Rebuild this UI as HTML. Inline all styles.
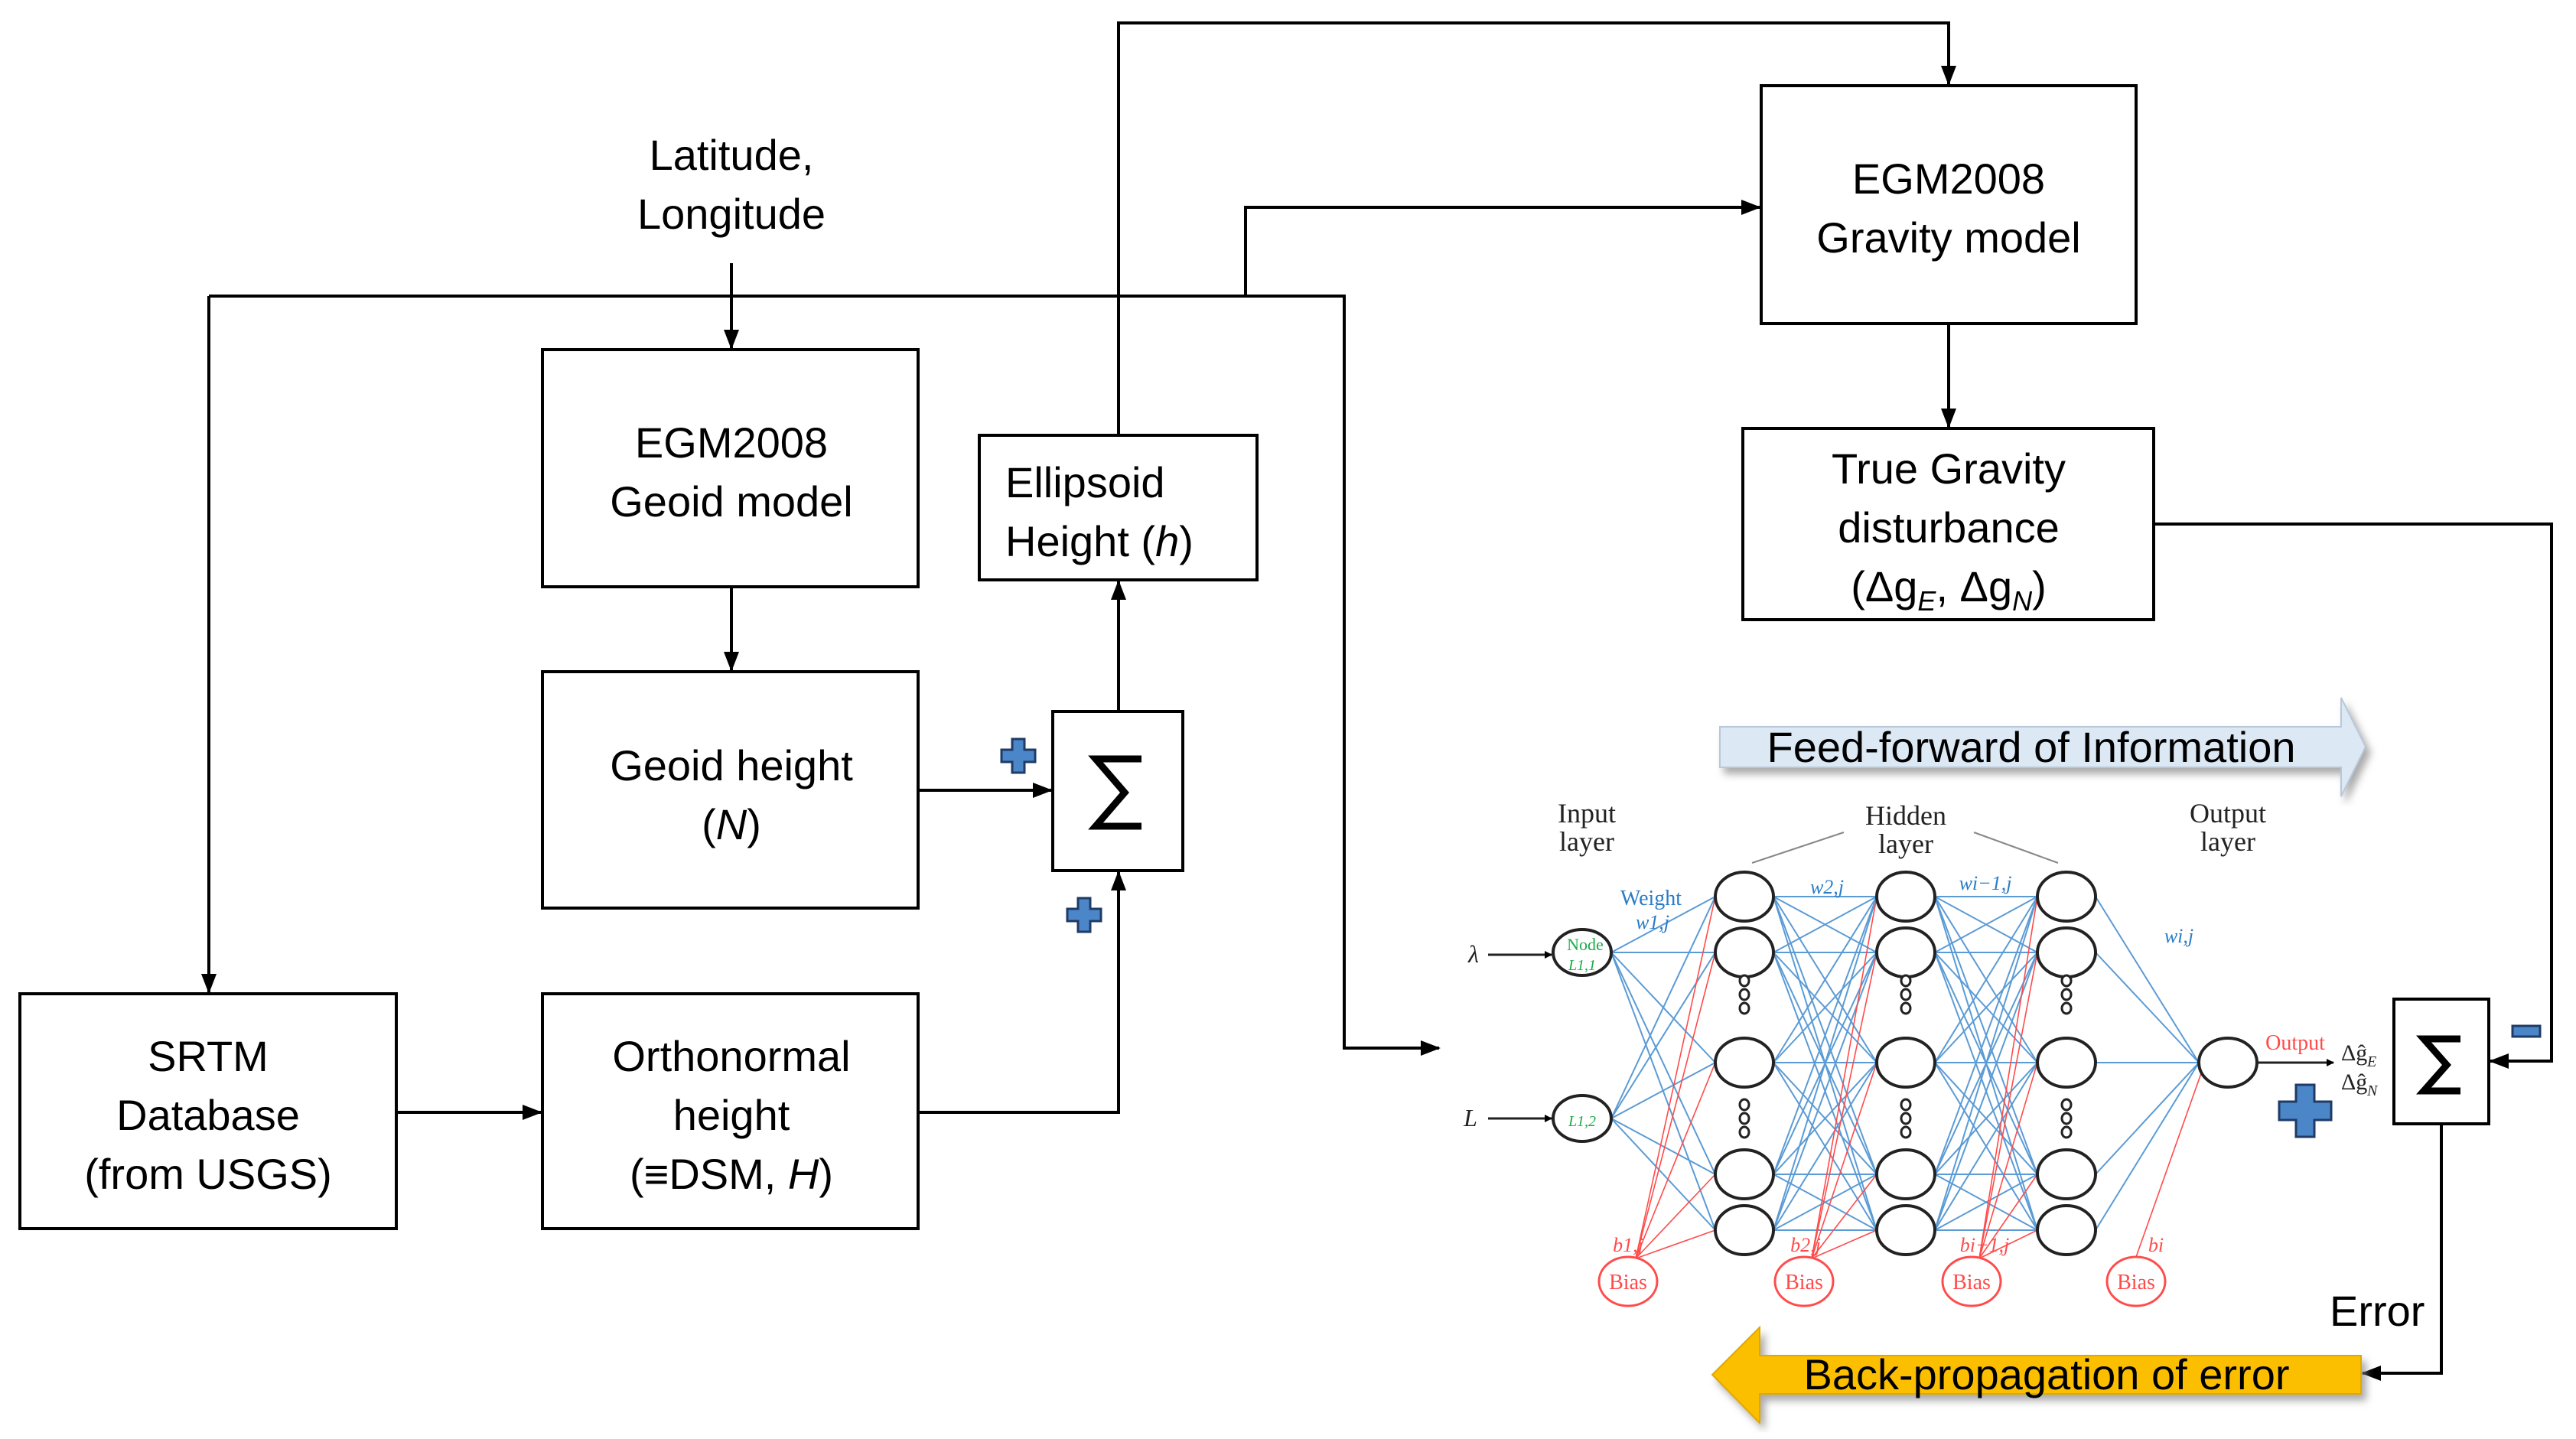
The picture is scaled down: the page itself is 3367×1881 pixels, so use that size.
<!DOCTYPE html>
<html><head><meta charset="utf-8"><style>
html,body{margin:0;padding:0;background:#fff;}
svg{display:block;}
.t{font-family:"Liberation Sans",sans-serif;font-size:56px;fill:#000;}
</style></head><body>
<svg id="sv" width="3367" height="1881" viewBox="0 0 3367 1881" xmlns="http://www.w3.org/2000/svg">
<defs>
<marker id="ah" markerWidth="10" markerHeight="10" refX="9" refY="5" orient="auto" markerUnits="userSpaceOnUse" viewBox="0 0 10 10"><path d="M0,0 L10,5 L0,10 z" fill="#000"/></marker>
<marker id="ab" markerWidth="26" markerHeight="26" refX="24" refY="13" orient="auto" markerUnits="userSpaceOnUse" viewBox="0 0 26 26"><path d="M0,3 L26,13 L0,23 z" fill="#000"/></marker>
<filter id="sh"><feDropShadow dx="6" dy="8" stdDeviation="5" flood-color="#888" flood-opacity="0.7"/></filter>
</defs>
<g fill="none" stroke="#000" stroke-width="4">
<rect x="709" y="457" width="491" height="310"/>
<rect x="709" y="878" width="491" height="309"/>
<rect x="26" y="1299" width="492" height="307"/>
<rect x="709" y="1299" width="491" height="307"/>
<rect x="1376" y="930" width="170" height="208"/>
<rect x="1280" y="569" width="363" height="189"/>
<rect x="2302" y="112" width="490" height="311"/>
<rect x="2278" y="560" width="537" height="250"/>
<rect x="3129" y="1306" width="124" height="163"/>
</g>
<g fill="none" stroke="#000" stroke-width="4">
<path d="M956 344 V455" marker-end="url(#ab)"/>
<path d="M273 387 H1757 V1370 H1881" marker-end="url(#ab)"/>
<path d="M273 387 V1297" marker-end="url(#ab)"/>
<path d="M956 767 V876" marker-end="url(#ab)"/>
<path d="M518 1454 H707" marker-end="url(#ab)"/>
<path d="M1200 1033 H1374" marker-end="url(#ab)"/>
<path d="M1200 1454 H1462 V1140" marker-end="url(#ab)"/>
<path d="M1462 930 V760" marker-end="url(#ab)"/>
<path d="M1462 569 V30 H2547 V110" marker-end="url(#ab)"/>
<path d="M1628 387 V271 H2300" marker-end="url(#ab)"/>
<path d="M2547 423 V558" marker-end="url(#ab)"/>
<path d="M2815 685 H3335 V1387 H3255" marker-end="url(#ab)"/>
<path d="M3191 1469 V1795 H3088" marker-end="url(#ab)"/>
</g>
<!-- sigma glyphs drawn as shapes -->
<g fill="none" stroke="#000" stroke-width="9" stroke-linejoin="miter">
<path d="M1492 992 H1432 L1470 1036 L1432 1080 H1492"/>
<path d="M3216 1358 H3168 L3198 1392 L3168 1426 H3216"/>
</g>
<g class="t" text-anchor="middle">
<text x="956" y="222">Latitude,</text>
<text x="956" y="299">Longitude</text>
<text x="956" y="598">EGM2008</text>
<text x="956" y="675">Geoid model</text>
<text x="956" y="1020">Geoid height</text>
<text x="956" y="1097">(<tspan font-style="italic">N</tspan>)</text>
<text x="272" y="1400">SRTM</text>
<text x="272" y="1477">Database</text>
<text x="272" y="1554">(from USGS)</text>
<text x="956" y="1400">Orthonormal</text>
<text x="956" y="1477">height</text>
<text x="956" y="1554">(≡DSM, <tspan font-style="italic">H</tspan>)</text>
<text x="2547" y="253">EGM2008</text>
<text x="2547" y="330">Gravity model</text>
<text x="2547" y="632">True Gravity</text>
<text x="2547" y="709">disturbance</text>
<text x="2547" y="786">(Δg<tspan font-size="36" dy="12" font-style="italic">E</tspan><tspan dy="-12">, Δg</tspan><tspan font-size="36" dy="12" font-style="italic">N</tspan><tspan dy="-12">)</tspan></text>
</g>
<g class="t">
<text x="1314" y="650">Ellipsoid</text>
<text x="1314" y="727">Height (<tspan font-style="italic">h</tspan>)</text>
<text x="3045" y="1733">Error</text>
</g>
<g fill="#4a86c8" stroke="#1f3b66" stroke-width="3">
<path d="M1323 966 h16 v14 h14 v16 h-14 v14 h-16 v-14 h-14 v-16 h14 z"/>
<path d="M1409 1174 h16 v14 h14 v16 h-14 v14 h-16 v-14 h-14 v-16 h14 z"/>
<path d="M3001 1418 h24 v22 h22 v24 h-22 v22 h-24 v-22 h-22 v-24 h22 z"/>
<rect x="3284" y="1341" width="36" height="14"/>
</g>
<path d="M2248 950 H3060 V912 L3092 976 L3060 1041 V1003 H2248 Z" fill="#dce8f4" stroke="#b8c8d8" stroke-width="2" filter="url(#sh)"/>
<text class="t" x="2655" y="996" text-anchor="middle" font-size="54">Feed-forward of Information</text>
<path d="M3086 1772 H2300 V1735 L2238 1797 L2300 1860 V1822 H3086 Z" fill="#fbbf00" stroke="#e0a800" stroke-width="2" filter="url(#sh)"/>
<text class="t" x="2675" y="1816" text-anchor="middle" font-size="54">Back-propagation of error</text>
<g id="nn"></g>
</svg>
<script>
var NS="http://www.w3.org/2000/svg",g=document.getElementById('nn');
function el(n,a,p){var e=document.createElementNS(NS,n);for(var k in a)e.setAttribute(k,a[k]);(p||g).appendChild(e);return e;}
function tx(x,y,s,sz,c,st,anc){var e=el('text',{x:x,y:y,'font-family':'Liberation Serif,serif','font-size':sz,fill:c,'text-anchor':anc||'middle'});if(st)e.setAttribute('font-style',st);e.textContent=s;return e;}
var inp=[[2068,1245],[2068,1462]];
var cols=[2280,2491,2701],rows=[1172,1245,1389,1535,1608];
var out=[2912,1389],bias=[2128,2358,2577,2792],by=1675;
var bl='#5b9bd5',rd='#ff4b4b';
inp.forEach(function(a){rows.forEach(function(r){el('line',{x1:a[0]+38,y1:a[1],x2:cols[0]-38,y2:r,stroke:bl,'stroke-width':2});});});
for(var c=0;c<2;c++)rows.forEach(function(r1){rows.forEach(function(r2){el('line',{x1:cols[c]+38,y1:r1,x2:cols[c+1]-38,y2:r2,stroke:bl,'stroke-width':2});});});
rows.forEach(function(r){el('line',{x1:cols[2]+38,y1:r,x2:out[0]-38,y2:out[1],stroke:bl,'stroke-width':2});});
for(var b=0;b<3;b++)rows.forEach(function(r){el('line',{x1:bias[b]+10,y1:by-30,x2:cols[b]-38,y2:r,stroke:rd,'stroke-width':1.6});});
el('line',{x1:bias[3],y1:by-32,x2:out[0]-30,y2:out[1],stroke:rd,'stroke-width':1.6});
inp.forEach(function(a){el('ellipse',{cx:a[0],cy:a[1],rx:38,ry:30,fill:'#fff',stroke:'#222','stroke-width':4});});
cols.forEach(function(c){rows.forEach(function(r){el('ellipse',{cx:c,cy:r,rx:38,ry:32,fill:'#fff',stroke:'#222','stroke-width':4});});
 [1282,1300,1318,1444,1462,1480].forEach(function(y){el('ellipse',{cx:c,cy:y,rx:6,ry:7,fill:'#fff',stroke:'#222','stroke-width':3});});});
el('ellipse',{cx:out[0],cy:out[1],rx:38,ry:32,fill:'#fff',stroke:'#222','stroke-width':4});
bias.forEach(function(x){el('ellipse',{cx:x,cy:by,rx:38,ry:32,fill:'#fff',stroke:rd,'stroke-width':3});tx(x,by+10,'Bias',28,rd);});
el('line',{x1:1945,y1:1248,x2:2028,y2:1248,stroke:'#222','stroke-width':3,'marker-end':'url(#ah)'});
el('line',{x1:1945,y1:1462,x2:2028,y2:1462,stroke:'#222','stroke-width':3,'marker-end':'url(#ah)'});
el('line',{x1:2950,y1:1389,x2:3050,y2:1389,stroke:'#222','stroke-width':3,'marker-end':'url(#ah)'});
tx(1926,1258,'λ',32,'#222','italic');tx(1922,1472,'L',32,'#222','italic');
tx(2074,1075,'Input',36,'#222');tx(2074,1112,'layer',36,'#222');
tx(2491,1078,'Hidden',36,'#222');tx(2491,1115,'layer',36,'#222');
tx(2912,1075,'Output',36,'#222');tx(2912,1112,'layer',36,'#222');
el('line',{x1:2290,y1:1128,x2:2410,y2:1088,stroke:'#888','stroke-width':2});
el('line',{x1:2580,y1:1088,x2:2690,y2:1128,stroke:'#888','stroke-width':2});
tx(2158,1183,'Weight',28,'#2a7cc7');tx(2160,1214,'w1,j',26,'#2a7cc7','italic');
tx(2388,1168,'w2,j',26,'#2a7cc7','italic');tx(2595,1163,'wi−1,j',26,'#2a7cc7','italic');tx(2848,1232,'wi,j',26,'#2a7cc7','italic');
tx(2072,1242,'Node',22,'#1aab4a');tx(2068,1268,'L1,1',20,'#1aab4a','italic');tx(2068,1472,'L1,2',20,'#1aab4a','italic');
tx(2128,1636,'b1,j',26,rd,'italic');tx(2360,1636,'b2,j',26,rd,'italic');tx(2594,1636,'bi−1,j',26,rd,'italic');tx(2818,1636,'bi',26,rd,'italic');
tx(3000,1372,'Output',28,rd);
tx(3060,1386,'Δĝ',30,'#222','','start');tx(3094,1394,'E',20,'#222','italic','start');
tx(3060,1424,'Δĝ',30,'#222','','start');tx(3094,1432,'N',20,'#222','italic','start');
</script>
</body></html>
